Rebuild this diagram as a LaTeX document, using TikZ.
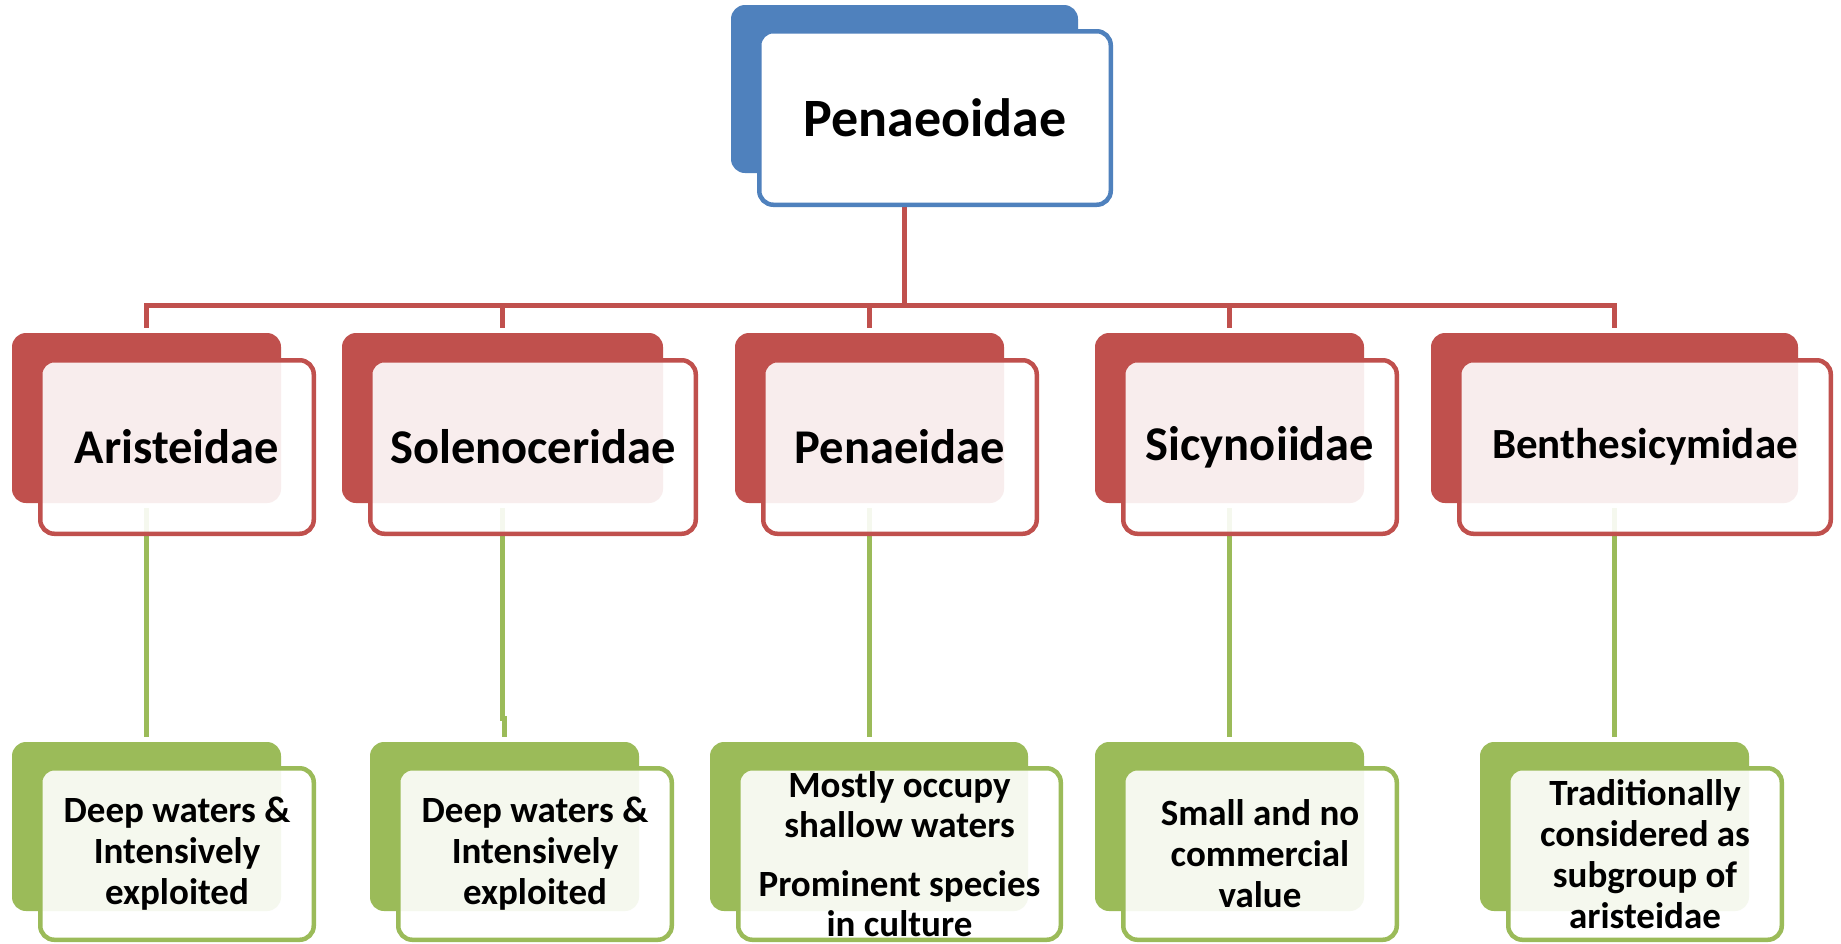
\documentclass[tikz,border=0pt]{standalone}
\usepackage{fontspec}
\setmainfont{Carlito}
\usetikzlibrary{backgrounds}
\definecolor{accblue}{HTML}{4F81BD}
\definecolor{accred}{HTML}{C0504D}
\definecolor{accgreen}{HTML}{9BBB59}
\newcommand\topfont{\fontsize{54}{64}\selectfont\bfseries}
\newcommand\famfont{\fontsize{48.5}{58}\selectfont\bfseries}
\newcommand\notefont{\fontsize{37}{41}\selectfont\bfseries}
\tikzset{
	backbox/.style={rounded corners=14pt, inner sep=0pt, outer sep=5pt, draw=none},
	frontbox/.style={rounded corners=14pt, inner sep=0pt, outer sep=0pt, line width=4.5pt,
		fill=white, fill opacity=0.9, text opacity=1, align=center},
	redline/.style={line width=5pt, color=accred},
	greenline/.style={line width=5pt, color=accgreen}
}

\begin{document}
\begin{tikzpicture}[x=1pt, y=-1pt]
		%%%%% START %%%%%
		\useasboundingbox (0,0) rectangle (1841,943);
		
		\node[backbox, fill=accblue, minimum width=347pt, minimum height=168pt] (topback) at (904.5,89) {};
		\node[frontbox, draw=accblue, fill opacity=1, font=\topfont, minimum width=351.5pt, minimum height=173.5pt] (top) at (935,118) {Penaeoidae};
		
		%%%%% families %%%%%
		\node[backbox, fill=accred, minimum width=269pt, minimum height=170pt] (aristback) at (146.5,418) {};
		\node[frontbox, draw=accred, font=\famfont, minimum width=273.5pt, minimum height=173.5pt] (aristeidae) at (177,447) {Aristeidae};
		
		\node[backbox, fill=accred, minimum width=321pt, minimum height=170pt] (soleback) at (502.5,418) {};
		\node[frontbox, draw=accred, font=\famfont, minimum width=325.5pt, minimum height=173.5pt] (solenoceridae) at (533,447) {Solenoceridae};
		
		\node[backbox, fill=accred, minimum width=269pt, minimum height=170pt] (penaback) at (869.5,418) {};
		\node[frontbox, draw=accred, font=\famfont, minimum width=273.5pt, minimum height=173.5pt] (penaeidae) at (900,447) {Penaeidae};
		
		\node[backbox, fill=accred, minimum width=269pt, minimum height=170pt] (sicyback) at (1229.5,418) {};
		\node[frontbox, draw=accred, font=\famfont, minimum width=273.5pt, minimum height=173.5pt] (sicynoiidae) at (1260,447) {Sicynoiidae};
		
		\node[backbox, fill=accred, minimum width=367pt, minimum height=170pt] (bentback) at (1614.5,418) {};
		\node[frontbox, draw=accred, font=\fontsize{43}{52}\selectfont\bfseries, minimum width=371.5pt, minimum height=173.5pt] (benthesicymidae) at (1645,447) {Benthesicymidae};
		
		%%%%% notes %%%%%
		\node[backbox, fill=accgreen, minimum width=269pt, minimum height=169pt] (aristleafback) at (146.5,826.5) {};
		\node[frontbox, draw=accgreen, font=\notefont, minimum width=273.5pt, minimum height=171.5pt] (aristleaf) at (177,854) {Deep waters \&\\Intensively\\exploited};
		
		\node[backbox, fill=accgreen, minimum width=269pt, minimum height=169pt] (soleleafback) at (504.5,826.5) {};
		\node[frontbox, draw=accgreen, font=\notefont, minimum width=273.5pt, minimum height=171.5pt] (soleleaf) at (535,854) {Deep waters \&\\Intensively\\exploited};
		
		\node[backbox, fill=accgreen, minimum width=318pt, minimum height=169pt] (penaleafback) at (869,826.5) {};
		\node[frontbox, draw=accgreen, font=\fontsize{37}{39.5}\selectfont\bfseries, minimum width=322.5pt, minimum height=171.5pt] (penaleaf) at (899.5,854) {Mostly occupy\\shallow waters\\[20pt]Prominent species\\in culture};
		
		\node[backbox, fill=accgreen, minimum width=269pt, minimum height=169pt] (sicyleafback) at (1229.5,826.5) {};
		\node[frontbox, draw=accgreen, font=\notefont, minimum width=273.5pt, minimum height=171.5pt] (sicyleaf) at (1260,854) {Small and no\\commercial\\value};
		
		\node[backbox, fill=accgreen, minimum width=269pt, minimum height=169pt] (bentleafback) at (1614.5,826.5) {};
		\node[frontbox, draw=accgreen, font=\notefont, minimum width=273.5pt, minimum height=171.5pt] (bentleaf) at (1645,854) {Traditionally\\considered as\\subgroup of\\aristeidae};
		
		%%%%% connectors %%%%%
		\begin{scope}[on background layer]
			\fill[white] (0,0) rectangle (1841,943);
			\coordinate (bus) at (904.5,305);
			\draw[redline] (topback.center) -- (bus);
			\draw[redline] (bus) -| (aristback.north);
			\draw[redline] (bus) -| (soleback.north);
			\draw[redline] (bus) -| (penaback.north);
			\draw[redline] (bus) -| (sicyback.north);
			\draw[redline] (bus) -| (bentback.north);
			
			\draw[greenline] (aristback.south) -- ++(0,210) -| (aristleafback.north);
			\draw[greenline] (soleback.south) -- ++(0,210) -| (soleleafback.north);
			\draw[greenline] (penaback.south) -- ++(0,210) -| (penaleafback.north);
			\draw[greenline] (sicyback.south) -- ++(0,210) -| (sicyleafback.north);
			\draw[greenline] (bentback.south) -- ++(0,210) -| (bentleafback.north);
		\end{scope}
		%%%%% END %%%%%
\end{tikzpicture}
\end{document}
